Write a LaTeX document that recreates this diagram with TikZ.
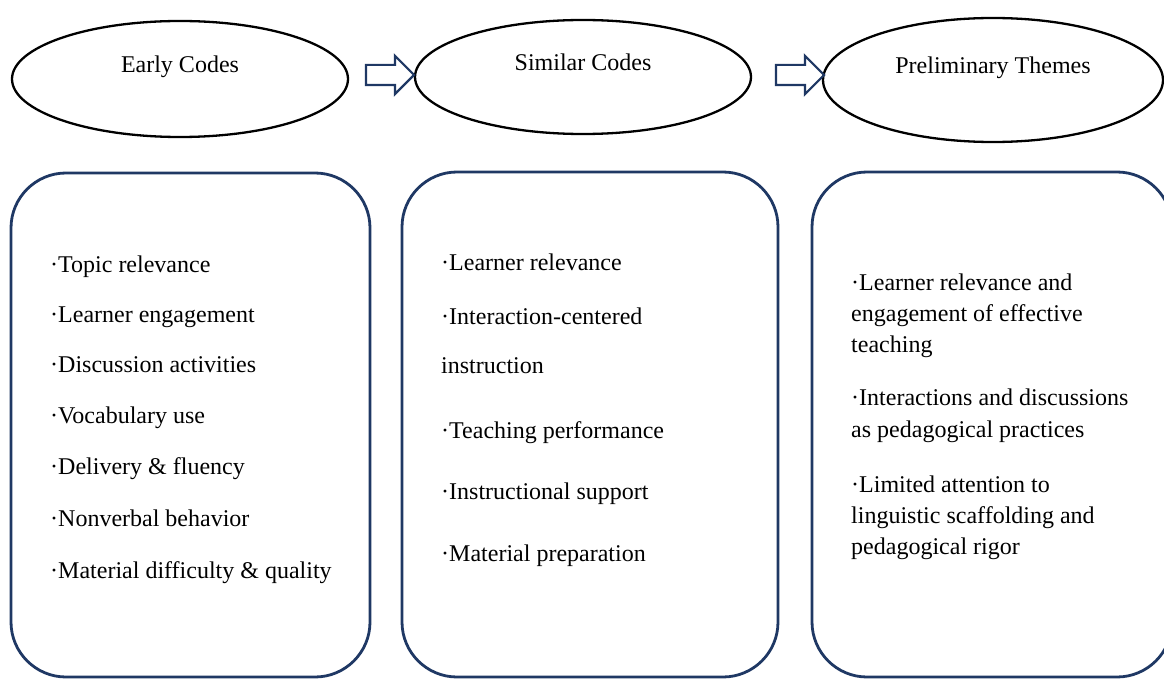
\documentclass[tikz,border=0pt]{standalone}
\usepackage{fontspec}
\setmainfont{Liberation Serif}
\usetikzlibrary{shapes.geometric,shapes.arrows}
\definecolor{navy}{RGB}{31,56,100}

\begin{document}
\begin{tikzpicture}[x=1pt,y=-1pt,
    stage/.style={draw,ellipse,line width=2.3pt,inner sep=0pt,font=\fontsize{24}{29}\selectfont,
      text height=12pt,text depth=24pt},
    flow/.style={draw=navy,single arrow,line width=2.2pt,inner sep=0pt,text width=0pt,
      text height=9pt,text depth=9pt,single arrow head extend=9pt,single arrow head indent=0pt,
      minimum height=48pt},
    codebox/.style={draw=navy,rectangle,rounded corners=55pt,line width=2.8pt,inner sep=0pt},
    item/.style={anchor=base west,inner sep=0pt,font=\fontsize{24}{29}\selectfont}]
    \useasboundingbox (0,0) rectangle (1164,679);

    % the three stages
    \node[stage,minimum width=336pt,minimum height=116pt] (early) at (180,79) {Early Codes};
    \node[stage,minimum width=336pt,minimum height=114pt] (similar) at (583,77) {Similar Codes};
    \node[stage,minimum width=340pt,minimum height=124pt] (themes) at (993,80) {Preliminary Themes};
    \node[flow] (step1) at (385,75) {};
    \node[flow] (step2) at (795,75) {};

    % boxes under each stage
    \node[codebox,minimum width=359pt,minimum height=504pt] (earlybox) at (190.5,425) {};
    \node[codebox,minimum width=376pt,minimum height=505pt] (similarbox) at (590,424.5) {};
    \node[codebox,minimum width=360pt,minimum height=505pt] (themesbox) at (992,424.5) {};

    % early codes
    \node[item] (ec1) at (50,272) {·Topic relevance};
    \node[item] (ec2) at (50,322) {·Learner engagement};
    \node[item] (ec3) at (50,372) {·Discussion activities};
    \node[item] (ec4) at (50,423) {·Vocabulary use};
    \node[item] (ec5) at (50,474) {·Delivery \& fluency};
    \node[item] (ec6) at (50,526) {·Nonverbal behavior};
    \node[item] (ec7) at (50,578) {·Material difficulty \& quality};

    % similar codes
    \node[item] (sc1) at (441,270) {·Learner relevance};
    \node[item] (sc2) at (441,324) {·Interaction-centered};
    \node[item] (sc2b) at (441,373) {instruction};
    \node[item] (sc3) at (441,438) {·Teaching performance};
    \node[item] (sc4) at (441,499) {·Instructional support};
    \node[item] (sc5) at (441,561) {·Material preparation};

    % preliminary themes
    \node[item] (pt1) at (851,290) {·Learner relevance and};
    \node[item] (pt1b) at (851,321) {engagement of effective};
    \node[item] (pt1c) at (851,352) {teaching};
    \node[item] (pt2) at (851,405) {·Interactions and discussions};
    \node[item] (pt2b) at (851,437) {as pedagogical practices};
    \node[item] (pt3) at (851,492) {·Limited attention to};
    \node[item] (pt3b) at (851,523) {linguistic scaffolding and};
    \node[item] (pt3c) at (851,554) {pedagogical rigor};
\end{tikzpicture}
\end{document}
